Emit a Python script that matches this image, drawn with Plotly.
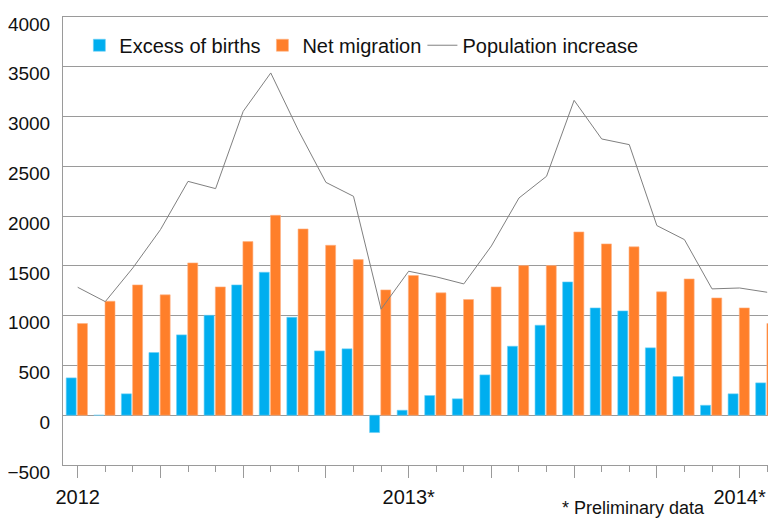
import plotly.graph_objects as go

months = list(range(26))  # Jan 2012 .. Feb 2014
births = [375, 0, 215, 630, 807, 1004, 1309, 1436, 984, 646, 667, -174, 50,
          198, 165, 405, 693, 904, 1339, 1078, 1048, 677, 389, 100, 215, 325]
migration = [921, 1145, 1309, 1209, 1530, 1289, 1744, 2008, 1871, 1707, 1563, 1259, 1403,
             1229, 1162, 1289, 1503, 1503, 1841, 1721, 1691, 1239, 1369, 1178, 1078, 921]
increase = [1285, 1141, 1480, 1864, 2349, 2276, 3052, 3438, 2862, 2339, 2199, 1065, 1446,
            1390, 1319, 1700, 2182, 2400, 3163, 2775, 2718, 1905, 1764, 1269, 1278, 1235]
tick_pos = [0, 3, 6, 9, 12, 15, 18, 21, 24]
tick_text = ["2012", "", "", "", "2013*", "", "", "", "2014*"]
y_ticks = list(range(-500, 4001, 500))

FONT = "Liberation Sans, Arial, sans-serif"
GRID = "#9a9a9a"

fig = go.Figure()
fig.add_trace(go.Bar(x=months, y=births, name="Excess of births", showlegend=True,
                     marker=dict(color="#00AEEF", line=dict(color="#6fd0f5", width=0.6)),
                     width=0.363, offset=-0.417, legend="legend"))
fig.add_trace(go.Bar(x=months, y=migration, name="Net migration", showlegend=True,
                     marker=dict(color="#FF7F2A", line=dict(color="#ffb283", width=0.6)),
                     width=0.363, offset=-0.01, legend="legend2"))
fig.add_trace(go.Scatter(x=months, y=increase, name="Population increase", mode="lines",
                         showlegend=True,
                         line=dict(color="#808080", width=1), legend="legend3"))

leg_common = dict(orientation="h", yanchor="middle", y=0.937, xanchor="left",
                  bgcolor="rgba(0,0,0,0)", font=dict(family=FONT, size=20, color="#111"),
                  itemwidth=30, visible=True)
fig.update_layout(
    width=776, height=518,
    margin=dict(l=55, r=0, t=9, b=61),
    plot_bgcolor="white", paper_bgcolor="white",
    barmode="overlay", showlegend=True,
    font=dict(family=FONT, size=20, color="#111"),
    legend=dict(x=0.0227, **leg_common),
    legend2=dict(x=0.2766, **leg_common),
    legend3=dict(x=0.4985, **leg_common),
    xaxis=dict(range=[-0.533, 25.61], tickmode="array", tickvals=tick_pos, ticktext=tick_text,
               ticks="outside", ticklen=12, tickcolor=GRID, tickwidth=1,
               minor=dict(tickmode="linear", tick0=0, dtick=1, ticks="outside", ticklen=6,
                          tickcolor=GRID, tickwidth=1),
               showgrid=False, showline=True, linecolor=GRID, linewidth=1, mirror=True,
               zeroline=False, ticklabelstandoff=2, automargin=False,
               tickfont=dict(family=FONT, size=20, color="#111")),
    yaxis=dict(range=[-500, 4000], tickmode="array", tickvals=y_ticks,
               showgrid=True, gridcolor=GRID, gridwidth=1,
               zeroline=True, zerolinecolor=GRID, zerolinewidth=1,
               showline=True, linecolor=GRID, linewidth=1, ticks="",
               ticklabelstandoff=8, ticklabelshift=7, automargin=False,
               tickfont=dict(family=FONT, size=19, color="#111")),
    annotations=[dict(text="* Preliminary data", xref="paper", yref="paper",
                      x=0.6895, y=-0.0683, xanchor="left", yanchor="top", showarrow=False,
                      font=dict(family=FONT, size=18, color="#111"))],
)

fig.write_html("out.html")
